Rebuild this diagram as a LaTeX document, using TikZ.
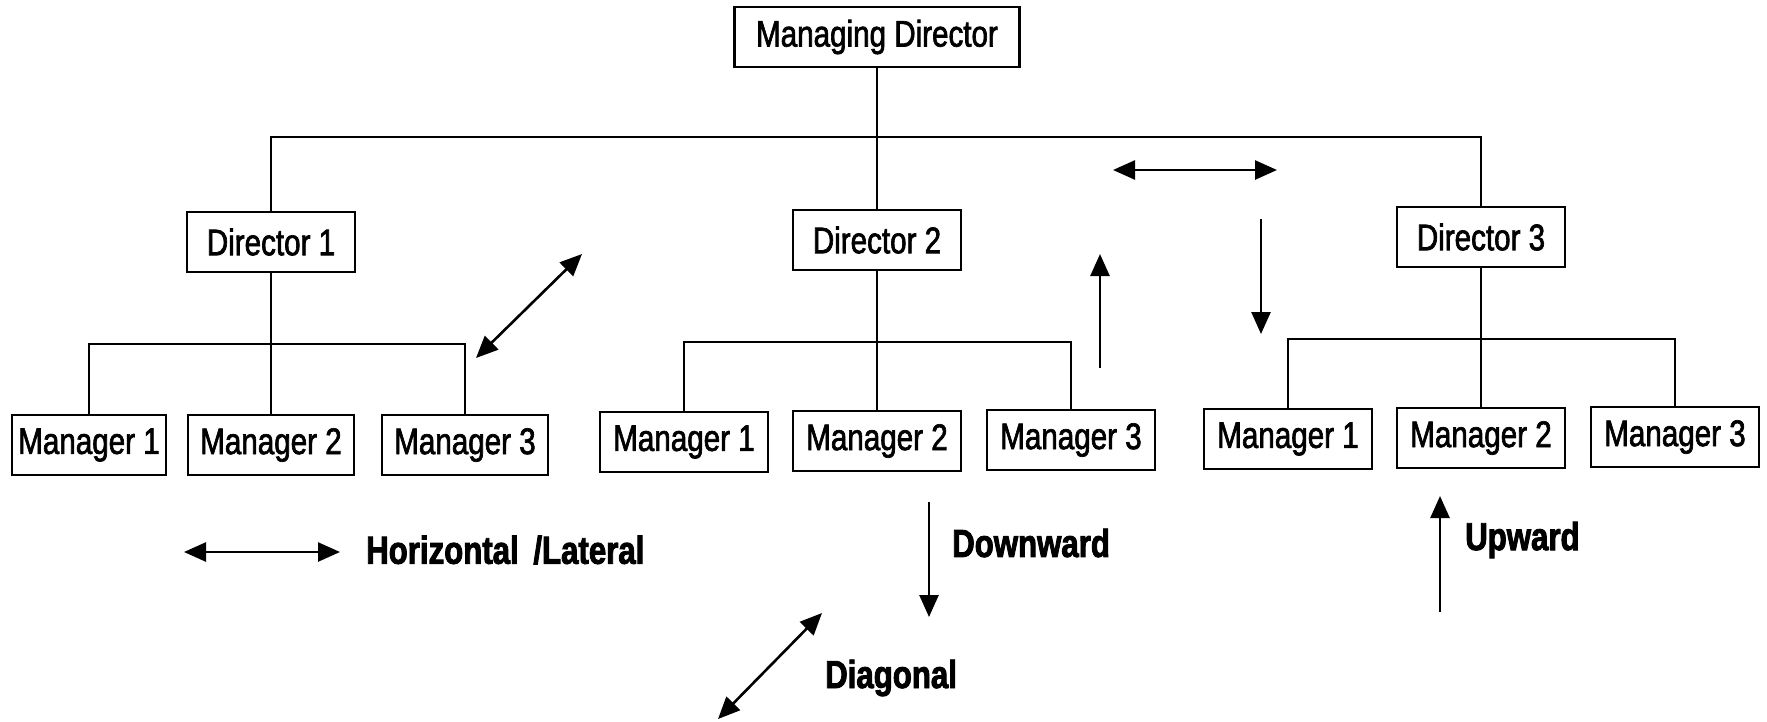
\documentclass[tikz,border=0pt]{standalone}
\usepackage{fontspec}
\setmainfont{Liberation Sans}[FakeStretch=0.80,
  UprightFeatures={FakeBold=1.8},
  BoldFeatures={FakeBold=2.2}]
\usetikzlibrary{arrows.meta}
\begin{document}
\begin{tikzpicture}[x=1pt,y=-1pt,
  box/.style={draw,line width=2.8pt,minimum width=168pt,minimum height=60pt,inner sep=0pt,font=\fontsize{37}{42}\selectfont},
  link/.style={line width=2.4pt},
  tip/.tip={Triangle[length=22pt,width=19pt]},
  arr/.style={line width=2.6pt,-tip},
  darr/.style={line width=2.6pt,tip-tip},
  lbl/.style={anchor=west,inner sep=0pt,font=\bfseries\fontsize{39}{44}\selectfont}]
\useasboundingbox (0,0) rectangle (1767,721);

% boxes
\node[box,minimum width=285pt] (md) at (877,37) {Managing Director};
\node[box] (d1) at (271,242) {Director 1};
\node[box] (d2) at (877,240) {Director 2};
\node[box] (d3) at (1481,237) {Director 3};

\node[box,minimum width=154pt] (m11) at (89,445) {Manager 1};
\node[box,minimum width=166pt] (m12) at (271,445) {Manager 2};
\node[box,minimum width=166pt] (m13) at (465,445) {Manager 3};

\node[box] (m21) at (684,442) {Manager 1};
\node[box] (m22) at (877,441) {Manager 2};
\node[box] (m23) at (1071,440) {Manager 3};

\node[box] (m31) at (1288,439) {Manager 1};
\node[box] (m32) at (1481,438) {Manager 2};
\node[box] (m33) at (1675,437) {Manager 3};

% bus levels
\coordinate (tb) at (877,137);
\coordinate (b1) at (271,344);
\coordinate (b2) at (877,342);
\coordinate (b3) at (1481,339);

% tree lines
\draw[link] (md.south) -- (d2.north);
\draw[link] (d1.north) |- (d3.north |- tb) -- (d3.north);
\draw[link] (d1.south) -- (m12.north);
\draw[link] (m11.north) |- (m13.north |- b1) -- (m13.north);
\draw[link] (d2.south) -- (m22.north);
\draw[link] (m21.north) |- (m23.north |- b2) -- (m23.north);
\draw[link] (d3.south) -- (m32.north);
\draw[link] (m31.north) |- (m33.north |- b3) -- (m33.north);

% flow arrows in the chart
\coordinate (dgA) at (476,358);
\coordinate (dgB) at (582,254);
\draw[darr] (dgA) -- (dgB);
\coordinate (upA) at (1100,368);
\coordinate (upB) at (1100,254);
\draw[arr] (upA) -- (upB);
\coordinate (hzA) at (1113,170);
\coordinate (hzB) at (1277,170);
\draw[darr] (hzA) -- (hzB);
\coordinate (dnA) at (1261,219);
\coordinate (dnB) at (1261,334);
\draw[arr] (dnA) -- (dnB);

% key
\coordinate (kA) at (184,552);
\coordinate (kB) at (340,552);
\draw[darr] (kA) -- (kB);
\node[lbl] (lh) at (366,550) {Horizontal\hspace{6pt} /Lateral};

\coordinate (kdA) at (929,502);
\coordinate (kdB) at (929,617);
\draw[arr] (kdA) -- (kdB);
\node[lbl] (ld) at (952,543) {Downward};

\coordinate (kgA) at (718,719);
\coordinate (kgB) at (822,613);
\draw[darr] (kgA) -- (kgB);
\node[lbl] (lg) at (825,678) {Diagonal};

\coordinate (kuA) at (1440,612);
\coordinate (kuB) at (1440,496);
\draw[arr] (kuA) -- (kuB);
\node[lbl] (lu) at (1465,540) {Upward};
\end{tikzpicture}
\end{document}
